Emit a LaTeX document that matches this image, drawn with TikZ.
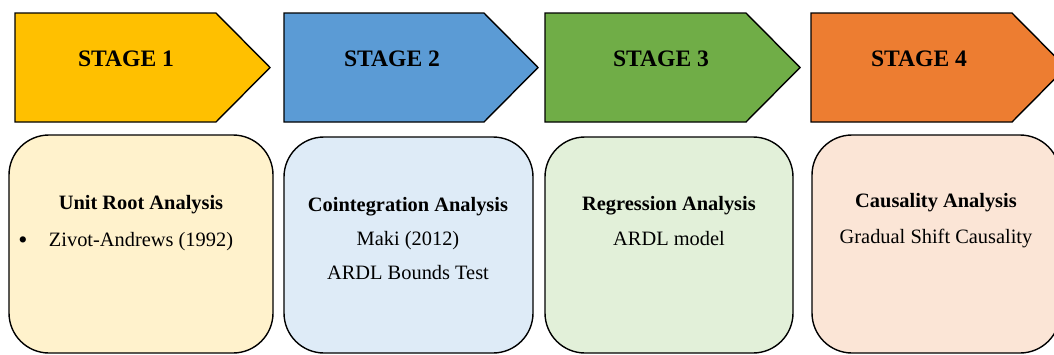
\documentclass[tikz,border=0pt]{standalone}
\usepackage{fontspec}
\setmainfont{Liberation Serif}
\definecolor{sA}{HTML}{FFC000}
\definecolor{sB}{HTML}{5B9BD5}
\definecolor{sC}{HTML}{70AD47}
\definecolor{sD}{HTML}{ED7D31}
\definecolor{bA}{HTML}{FFF2CC}
\definecolor{bB}{HTML}{DEEBF7}
\definecolor{bC}{HTML}{E2F0D9}
\definecolor{bD}{HTML}{FBE5D6}
\begin{document}
\begin{tikzpicture}[x=1pt,y=-1pt,
  stagearrow/.style={draw=black,line width=1.4pt,line join=miter},
  infobox/.style={draw=black,line width=1.4pt,rounded corners=40pt},
  stagetext/.style={anchor=base,inner sep=0pt,font=\fontsize{23.6}{28}\selectfont\bfseries},
  titletext/.style={anchor=base,inner sep=0pt,font=\fontsize{20.4}{24}\selectfont\bfseries},
  bodytext/.style={anchor=base,inner sep=0pt,font=\fontsize{20.4}{24}\selectfont}]
\useasboundingbox (0,0) rectangle (1054,354);
\clip (0,0) rectangle (1054,354);
% stage arrows
\draw[stagearrow,fill=sA] (15,13) -- (216,13) -- (270,67.5) -- (216,122) -- (15,122) -- cycle;
\draw[stagearrow,fill=sB] (284,13) -- (484,13) -- (538,67.5) -- (484,122) -- (284,122) -- cycle;
\draw[stagearrow,fill=sC] (545,13) -- (746,13) -- (800,67.5) -- (746,122) -- (545,122) -- cycle;
\draw[stagearrow,fill=sD] (811,13) -- (1012,13) -- (1066,67.5) -- (1012,122) -- (811,122) -- cycle;
\node[stagetext] (stA) at (126,66.5) {STAGE 1};
\node[stagetext] (stB) at (392,66.5) {STAGE 2};
\node[stagetext] (stC) at (661,66.5) {STAGE 3};
\node[stagetext] (stD) at (919,66.5) {STAGE 4};
% boxes
\draw[infobox,fill=bA] (9,135) rectangle (273,353);
\draw[infobox,fill=bB] (284,137) rectangle (533,353);
\draw[infobox,fill=bC] (545,137) rectangle (793,353);
\draw[infobox,fill=bD] (812,135) rectangle (1060,353);
% box texts
\node[titletext] (tA) at (141,209) {Unit Root Analysis};
\node[anchor=base,inner sep=0pt,font=\fontsize{26}{28}\selectfont] (bul) at (23,248) {•};
\node[bodytext] (lA) at (141,246) {Zivot-Andrews (1992)};
\node[titletext] (tB) at (408,211) {Cointegration Analysis};
\node[bodytext] (lB1) at (408,245) {Maki (2012)};
\node[bodytext] (lB2) at (408,279) {ARDL Bounds Test};
\node[titletext] (tC) at (669,210) {Regression Analysis};
\node[bodytext] (lC) at (669,245) {ARDL model};
\node[titletext] (tD) at (936,207) {Causality Analysis};
\node[bodytext] (lD) at (936,243) {Gradual Shift Causality};
\end{tikzpicture}
\end{document}
